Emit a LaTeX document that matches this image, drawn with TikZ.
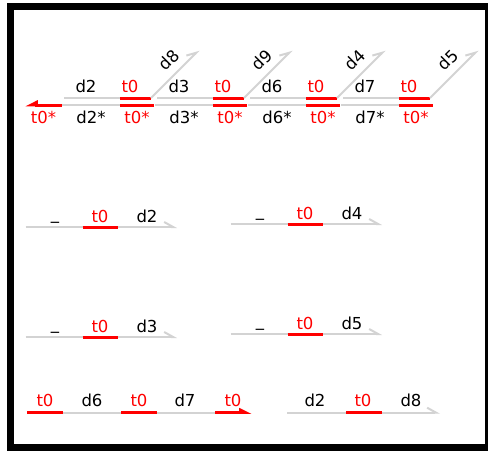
\documentclass[tikz,border=0pt]{standalone}
\usepackage{fontspec}
\setmainfont{DejaVu Sans}
\usetikzlibrary{arrows.meta,positioning}
\definecolor{railgray}{RGB}{211,211,211}
\definecolor{tokred}{RGB}{255,0,0}
\tikzset{
  railseg/.style={draw=railgray,line width=2pt},
  tokseg/.style={draw=tokred,line width=3pt},
  lab/.style={font=\fontsize{16.5}{19}\selectfont,anchor=base,inner sep=0pt},
  toklab/.style={lab,text=tokred},
  railtip/.style={-{Straight Barb[harpoon,length=9pt,width=10pt]}},
  toktip/.style={-{Triangle[harpoon,length=10pt,width=9pt]}}
}
\begin{document}
\begin{tikzpicture}[x=1pt,y=-1pt]
  \useasboundingbox (0,0) rectangle (488,451);
  \draw[line width=7pt] (10.5,6.5) rectangle (488.5,447.5);

  \coordinate (lt) at (25,105);
  \foreach \a/\b [count=\i from 0] in {d2/d8,d3/d9,d6/d4,d7/d5}
  {
    \pgfmathsetmacro\x{120+93*\i}
    \coordinate (ua\i) at ({\x-56},98);
    \coordinate (ub\i) at (\x,98);
    \coordinate (uc\i) at ({\x+31},98);
    \coordinate (ud\i) at ({\x+79},50);
    \coordinate (la\i) at ({\x-58},105);
    \coordinate (lb\i) at (\x,105);
    \coordinate (lc\i) at ({\x+34},105);
    \draw[railseg] (ua\i) -- (ub\i);
    \draw[tokseg] (ub\i) -- (uc\i);
    \draw[railseg,railtip] (uc\i) -- (ud\i);
    \draw[railseg] (la\i) -- (lb\i);
    \draw[tokseg] (lb\i) -- (lc\i);
    \node[lab] (u\i) at ({\x-34},92) {\a};
    \node[toklab] (t\i) at ({\x+10},92) {t0};
    \node[lab,rotate=45,anchor=center] (s\i) at ({\x+49},60) {\b};
    \node[lab] (l\i) at ({\x-29},123) {\a*};
    \node[toklab] (r\i) at ({\x+17},123) {t0*};
  }
  \draw[tokseg,-{Triangle[harpoon,swap,length=10pt,width=9pt]}] (la0) -- (lt);
  \node[toklab] (r) at (43.5,123) {t0*};

  \foreach \dx/\dy/\d [count=\k] in {0/227/d2,205/224/d4,0/337/d3,205/334/d5}
  {
    \coordinate (ma\k) at ({25.7+\dx},\dy);
    \coordinate (mb\k) at ({82.7+\dx},\dy);
    \coordinate (mc\k) at ({118.3+\dx},\dy);
    \coordinate (md\k) at ({177+\dx},\dy);
    \draw[railseg,railtip] (ma\k) -- (md\k);
    \draw[tokseg] (mb\k) -- (mc\k);
    \node[lab] (mu\k) at ({55+\dx},{\dy-5}) {\raisebox{3pt}{\_}};
    \node[toklab] (mt\k) at ({100+\dx},{\dy-5}) {t0};
    \node[lab] (md\k) at ({147+\dx},{\dy-5}) {\d};
  }

  \coordinate (pa) at (27,412.7);
  \coordinate (pb) at (63,412.7);
  \coordinate (pc) at (121,412.7);
  \coordinate (pd) at (157,412.7);
  \coordinate (pe) at (215,412.7);
  \coordinate (pf) at (252,412.7);
  \draw[railseg] (pb) -- (pe);
  \draw[tokseg] (pa) -- (pb);
  \draw[tokseg] (pc) -- (pd);
  \draw[tokseg,toktip] (pe) -- (pf);
  \foreach \t/\c/\p [count=\j] in {t0/tokred/45,d6/black/92,t0/tokred/139,d7/black/185,t0/tokred/233}
    \node[lab,text=\c] (p\j) at (\p,406.7) {\t};

  \coordinate (qa) at (287,412.7);
  \coordinate (qb) at (346,412.7);
  \coordinate (qc) at (382,412.7);
  \coordinate (qd) at (440,412.7);
  \draw[railseg,railtip] (qa) -- (qd);
  \draw[tokseg] (qb) -- (qc);
  \foreach \t/\c/\p [count=\j] in {d2/black/315,t0/tokred/363,d8/black/411}
    \node[lab,text=\c] (q\j) at (\p,406.7) {\t};
\end{tikzpicture}
\end{document}
